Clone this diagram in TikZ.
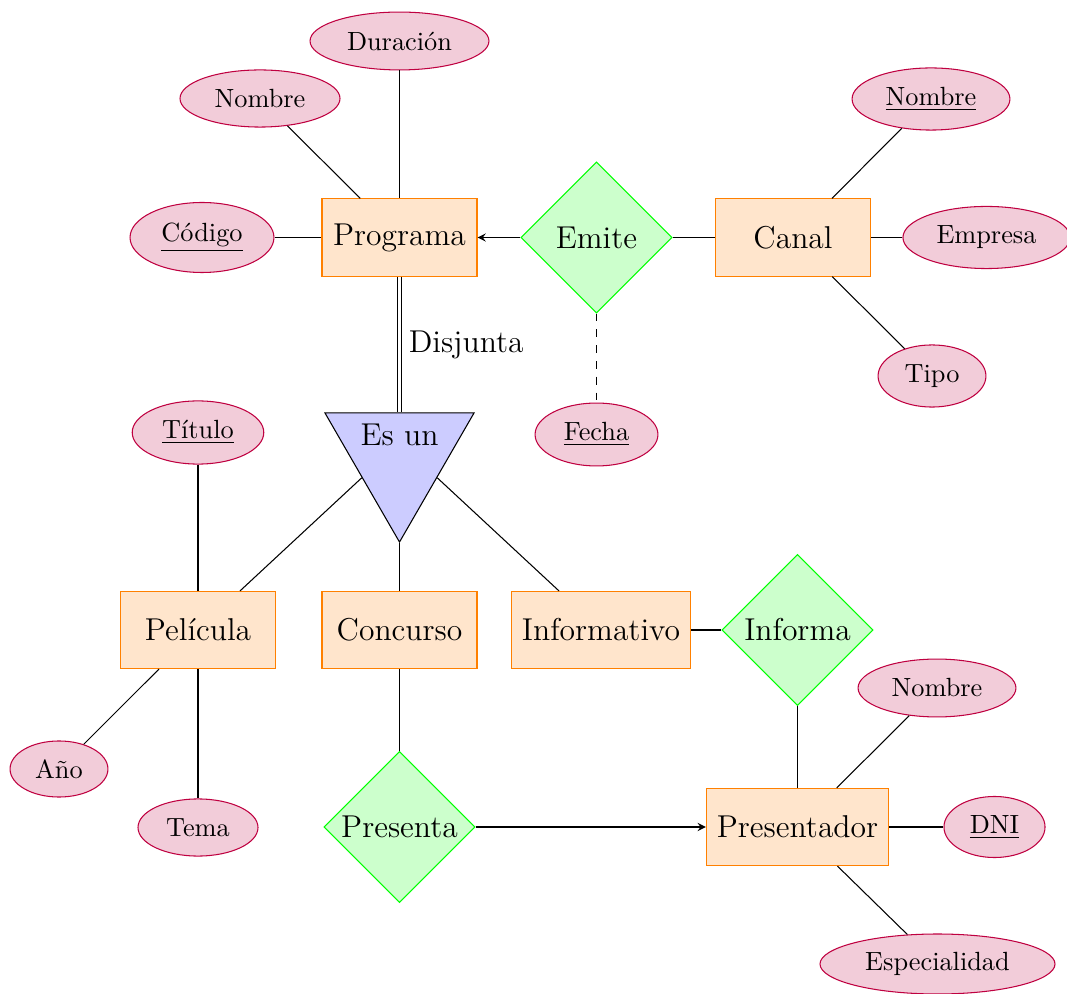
\documentclass[tikz,border=0pt]{standalone}
\usetikzlibrary{shapes.geometric}
\begin{document}
\begin{tikzpicture}[x=0.38pt,y=-0.38pt,
  entity/.style={rectangle,draw=orange,fill=orange!20,font=\large,inner xsep=4pt,minimum width=58.9pt,minimum height=29.3pt},
  rel/.style={diamond,draw=green,fill=green!20,font=\large,inner sep=0pt,minimum width=57.4pt,minimum height=57.4pt},
  attr/.style={ellipse,draw=purple,fill=purple!20,inner sep=0pt},
  isabox/.style={regular polygon,regular polygon sides=3,shape border rotate=180,draw=black,fill=blue!20,inner sep=0pt,minimum size=65.4pt},
  conn/.style={draw=black},
  arr/.style={draw=black,-stealth}]
\useasboundingbox (0,0) rectangle (1067,994);
% entities
\node[entity] (prog) at (399.5,237.5) {Programa};
\node[entity] (canal) at (793,237.5) {Canal};
\node[entity] (pel) at (198,630) {Película};
\node[entity] (conc) at (399.5,630) {Concurso};
\node[entity] (inf) at (601,630) {Informativo};
\node[entity] (pres) at (797.5,827) {Presentador};
% relationships
\node[rel] (emite) at (596.5,237.5) {Emite};
\node[rel] (informa) at (797.5,630) {Informa};
\node[rel] (presenta) at (399.5,827) {Presenta};
% isa
\node[isabox] (isa) at (399.5,456) {};
\node[font=\large] (isalbl) at (399.5,435) {Es un};
% attributes
\node[attr,minimum width=68pt,minimum height=22pt] (dur) at (399.5,41) {Duración};
\node[attr,minimum width=60.8pt,minimum height=21.7pt] (pnom) at (260,98.5) {Nombre};
\node[attr,minimum width=54.7pt,minimum height=26.6pt] (cod) at (202,237.5) {\underline{Código}};
\node[attr,minimum width=60pt,minimum height=23.6pt] (cnom) at (931,99) {\underline{Nombre}};
\node[attr,minimum width=63.5pt,minimum height=23.6pt] (emp) at (986.5,237.5) {Empresa};
\node[attr,minimum width=41pt,minimum height=23.6pt] (tipo) at (932,376) {Tipo};
\node[attr,minimum width=46.7pt,minimum height=23.9pt] (fecha) at (596.5,434.5) {\underline{Fecha}};
\node[attr,minimum width=50pt,minimum height=24pt] (tit) at (198,432.5) {\underline{Título}};
\node[attr,minimum width=37.2pt,minimum height=21.3pt] (ano) at (59,769) {Año};
\node[attr,minimum width=45.6pt,minimum height=21.7pt] (tema) at (198,827.5) {Tema};
\node[attr,minimum width=60pt,minimum height=22pt] (prnom) at (937,688) {Nombre};
\node[attr,minimum width=38.4pt,minimum height=23.2pt] (dni) at (994.5,827) {\underline{DNI}};
\node[attr,minimum width=89.3pt,minimum height=22.8pt] (esp) at (937.5,964) {Especialidad};
% connectors
\draw[conn] (pnom) -- (prog);
\draw[conn] (dur) -- (prog);
\draw[conn] (cod) -- (prog);
\draw[arr] (emite) -- (prog);
\draw[conn] (emite) -- (canal);
\draw[conn] (canal) -- (cnom);
\draw[conn] (canal) -- (emp);
\draw[conn] (canal) -- (tipo);
\draw[conn,dashed] (emite) -- (fecha);
\draw[conn,double,double distance=1pt] (prog) -- (isa.side 2) node[midway,right,font=\large] (disj) {Disjunta};
\draw[conn] (isa.side 3) -- (pel);
\draw[conn] (isa.corner 1) -- (conc);
\draw[conn] (isa.side 1) -- (inf);
\draw[conn] (tit) -- (pel);
\draw[conn] (pel) -- (ano);
\draw[conn] (pel) -- (tema);
\draw[conn] (conc) -- (presenta);
\draw[arr] (presenta) -- (pres);
\draw[conn] (inf) -- (informa);
\draw[conn] (informa) -- (pres);
\draw[conn] (pres) -- (prnom);
\draw[conn] (pres) -- (dni);
\draw[conn] (pres) -- (esp);
\end{tikzpicture}
\end{document}
